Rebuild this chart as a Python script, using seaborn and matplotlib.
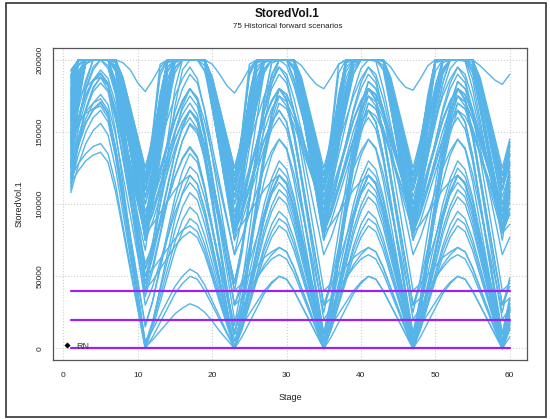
# StoredVol.1 – 75 historical forward scenarios

import pandas as pd
import matplotlib
matplotlib.use('Agg')
import matplotlib.pyplot as plt
import matplotlib.patches as mpatches
from matplotlib import ticker
import seaborn as sns

# ── Data ──────────────────────────────────────────────────────────────────────

# stored volume per scenario, in thousands, for stages 1..60
stored_k = [
    [150,179,200,200,200,200,194,165,137,108,80, 105,138,171,200,200,200,200,200,184,161,138,115, 148,192,200,200,200,200,200,200,186,164,142,120, 137,159,181,200,200,200,200,199,168,137,106,75, 88,105,122,139,152,160,152,130,100,70,40,10, 16],
    [172,200,200,200,200,200,200,184,161,138,115, 148,192,200,200,200,200,200,200,186,164,142,120, 137,159,181,200,200,200,200,199,168,137,106,75, 88,105,122,139,152,160,152,130,100,70,40,10, 16,24,32,40,46,50,48,40,30,20,10,0, 14],
    [128,181,200,200,200,200,200,186,164,142,120, 137,159,181,200,200,200,200,199,168,137,106,75, 88,105,122,139,152,160,152,130,100,70,40,10, 16,24,32,40,46,50,48,40,30,20,10,0, 14,32,50,68,81,90,86,72,54,36,18,0, 19],
    [185,200,200,200,200,200,199,168,137,106,75, 88,105,122,139,152,160,152,130,100,70,40,10, 16,24,32,40,46,50,48,40,30,20,10,0, 14,32,50,68,81,90,86,72,54,36,18,0, 19,44,69,94,113,125,119,102,79,56,33,10, 35],
    [140,160,176,186,191,184,161,131,101,71,41, 47,55,63,71,77,81,77,65,49,32,16,0, 14,32,50,68,81,90,86,72,54,36,18,0, 19,44,69,94,113,125,119,102,79,56,33,10, 36,70,104,138,163,180,176,162,144,126,108,90, 113],
    [118,128,135,140,142,135,114,85,57,28,0, 14,32,50,68,81,90,86,72,54,36,18,0, 19,44,69,94,113,125,119,102,79,56,33,10, 36,70,104,138,163,180,176,162,144,126,108,90, 113,144,175,200,200,200,200,200,186,164,142,120, 140],
    [163,185,200,200,200,200,185,152,120,87,55, 74,99,124,149,168,180,174,157,134,111,88,65, 91,125,159,193,200,200,200,200,182,158,134,110, 133,164,195,200,200,200,200,200,186,164,142,120, 140,166,192,200,200,200,200,200,170,140,110,80, 115],
    [192,200,200,200,200,200,200,172,143,114,85, 111,145,179,200,200,200,200,200,182,158,134,110, 133,164,195,200,200,200,200,200,186,164,142,120, 140,166,192,200,200,200,200,200,170,140,110,80, 115,161,200,200,200,200,200,200,184,161,138,115, 141],
    [135,176,200,200,200,200,200,182,158,134,110, 133,164,195,200,200,200,200,200,186,164,142,120, 140,166,192,200,200,200,200,200,170,140,110,80, 115,161,200,200,200,200,200,200,184,161,138,115, 141,176,200,200,200,200,200,200,180,155,130,105, 122],
    [155,192,200,200,200,200,200,186,164,142,120, 140,166,192,200,200,200,200,200,170,140,110,80, 115,161,200,200,200,200,200,200,184,161,138,115, 141,176,200,200,200,200,200,200,180,155,130,105, 122,145,168,191,200,200,200,193,166,139,112,85, 97],
    [110,141,165,180,188,182,164,140,116,92,68, 103,149,195,200,200,200,200,200,184,161,138,115, 141,176,200,200,200,200,200,200,180,155,130,105, 122,145,168,191,200,200,200,193,166,139,112,85, 97,113,129,145,157,165,157,134,103,72,41,10, 28],
    [178,200,200,200,200,200,200,184,161,138,115, 141,176,200,200,200,200,200,200,180,155,130,105, 122,145,168,191,200,200,200,193,166,139,112,85, 97,113,129,145,157,165,157,134,103,72,41,10, 28,52,76,100,118,130,124,105,80,55,30,5, 29],
    [146,188,200,200,200,200,200,180,155,130,105, 122,145,168,191,200,200,200,193,166,139,112,85, 97,113,129,145,157,165,157,134,103,72,41,10, 28,52,76,100,118,130,124,105,80,55,30,5, 29,61,93,125,149,165,161,150,135,120,105,90, 110],
    [168,196,200,200,200,200,200,172,143,114,85, 97,113,129,145,157,165,157,134,103,72,41,10, 28,52,76,100,118,130,124,105,80,55,30,5, 29,61,93,125,149,165,161,150,135,120,105,90, 110,137,164,191,200,200,200,198,171,144,117,90, 104],
    [122,141,156,165,170,162,139,108,77,46,15, 33,57,81,105,123,135,129,110,85,60,35,10, 34,66,98,130,154,170,166,155,140,125,110,95, 115,142,169,196,200,200,200,200,174,146,118,90, 104,122,140,158,171,180,173,150,120,90,60,30, 35],
    [188,200,200,200,200,200,199,168,137,106,75, 99,131,163,195,200,200,200,200,188,167,146,125, 145,172,199,200,200,200,200,200,174,146,118,90, 104,122,140,158,171,180,173,150,120,90,60,30, 35,42,49,56,62,65,62,52,39,26,13,0, 8],
    [133,171,200,200,200,200,200,187,167,146,125, 145,172,199,200,200,200,200,200,174,146,118,90, 104,122,140,158,171,180,173,150,120,90,60,30, 35,42,49,56,62,65,62,52,39,26,13,0, 8,18,28,38,45,50,48,40,30,20,10,0, 16],
    [158,190,200,200,200,200,200,174,146,118,90, 104,122,140,158,171,180,173,150,120,90,60,30, 35,42,49,56,62,65,62,52,39,26,13,0, 8,18,28,38,45,50,48,40,30,20,10,0, 16,37,58,79,95,105,100,84,63,42,21,0, 27],
    [175,197,200,200,200,200,193,157,122,86,50, 55,62,69,76,82,85,81,68,51,34,17,0, 8,18,28,38,45,50,48,40,30,20,10,0, 16,37,58,79,95,105,100,84,63,42,21,0, 27,63,99,135,162,180,176,163,146,129,112,95, 127],
    [115,123,130,134,136,129,109,82,54,27,0, 8,18,28,38,45,50,48,40,30,20,10,0, 16,37,58,79,95,105,100,84,63,42,21,0, 27,63,99,135,162,180,176,163,146,129,112,95, 127,169,200,200,200,200,200,200,186,164,142,120, 143],
    [143,155,164,170,173,165,139,105,71,37,3, 19,40,61,82,98,108,103,86,65,43,22,0, 27,63,99,135,162,180,176,163,146,129,112,95, 127,169,200,200,200,200,200,200,186,164,142,120, 143,173,200,200,200,200,200,200,178,152,126,100, 119],
    [181,200,200,200,200,200,200,170,140,110,80, 107,143,179,200,200,200,200,200,184,161,138,115, 147,189,200,200,200,200,200,200,186,164,142,120, 143,173,200,200,200,200,200,200,178,152,126,100, 119,144,169,194,200,200,200,196,167,138,109,80, 97],
    [126,169,200,200,200,200,200,184,161,138,115, 147,189,200,200,200,200,200,200,186,164,142,120, 143,173,200,200,200,200,200,200,178,152,126,100, 119,144,169,194,200,200,200,196,167,138,109,80, 97,120,143,166,184,195,190,173,151,129,107,85, 97],
    [165,200,200,200,200,200,200,186,164,142,120, 143,173,200,200,200,200,200,200,178,152,126,100, 119,144,169,194,200,200,200,196,167,138,109,80, 97,120,143,166,184,195,190,173,151,129,107,85, 97,113,129,145,157,165,157,133,101,69,37,5, 31],
    [152,188,200,200,200,200,200,178,152,126,100, 119,144,169,194,200,200,200,196,167,138,109,80, 97,120,143,166,184,195,190,173,151,129,107,85, 97,113,129,145,157,165,157,133,101,69,37,5, 31,65,99,133,158,175,171,159,143,127,111,95, 115],
    [188,200,200,200,200,200,200,198,193,184,178, 186,195,200,200,200,200,200,200,197,190,182,177, 185,194,200,200,200,200,200,200,196,189,183,180, 188,197,200,200,200,200,200,200,195,187,181,179, 187,196,200,200,200,200,200,200,196,191,186,183, 190],
    [138,166,186,200,200,200,184,160,137,113,90, 102,118,134,150,162,170,162,138,106,74,42,10, 36,70,104,138,163,180,176,164,148,132,116,100, 120,146,172,198,200,200,200,200,172,143,114,85, 121,169,200,200,200,200,200,200,182,158,134,110, 134],
    [170,189,200,200,200,200,182,147,111,76,40, 66,100,134,168,193,200,200,192,174,156,138,120, 140,166,192,200,200,200,200,200,172,143,114,85, 121,169,200,200,200,200,200,200,182,158,134,110, 134,166,198,200,200,200,200,200,182,158,134,110, 128],
    [112,153,183,200,200,200,195,176,158,139,120, 140,166,192,200,200,200,200,200,172,143,114,85, 121,169,200,200,200,200,200,200,182,158,134,110, 134,166,198,200,200,200,200,200,182,158,134,110, 128,152,176,200,200,200,200,200,170,140,110,80, 94],
    [160,191,200,200,200,200,200,172,143,114,85, 121,169,200,200,200,200,200,200,182,158,134,110, 134,166,198,200,200,200,200,200,182,158,134,110, 128,152,176,200,200,200,200,200,170,140,110,80, 94,113,132,151,166,175,168,146,117,88,59,30, 43],
    [148,200,200,200,200,200,200,182,158,134,110, 134,166,198,200,200,200,200,200,182,158,134,110, 128,152,176,200,200,200,200,200,170,140,110,80, 94,113,132,151,166,175,168,146,117,88,59,30, 43,60,77,94,107,115,109,92,69,46,23,0, 17],
    [183,200,200,200,200,200,200,182,158,134,110, 128,152,176,200,200,200,200,200,170,140,110,80, 94,113,132,151,166,175,168,146,117,88,59,30, 43,60,77,94,107,115,109,92,69,46,23,0, 17,39,61,83,99,110,105,88,66,44,22,0, 28],
    [130,159,180,195,200,196,178,153,129,104,80, 94,113,132,151,166,175,168,146,117,88,59,30, 43,60,77,94,107,115,109,92,69,46,23,0, 17,39,61,83,99,110,105,88,66,44,22,0, 28,65,102,139,167,185,180,166,147,128,109,90, 109],
    [176,199,200,200,200,200,195,160,125,90,55, 68,85,102,119,132,140,133,112,84,56,28,0, 17,39,61,83,99,110,105,88,66,44,22,0, 28,65,102,139,167,185,180,166,147,128,109,90, 109,134,159,184,200,200,200,187,159,131,103,75, 109],
    [120,140,156,166,171,163,140,109,78,47,16, 33,55,77,99,115,126,121,104,82,60,38,16, 44,81,118,155,183,200,196,182,163,143,124,105, 124,149,174,199,200,200,200,199,168,137,106,75, 109,154,199,200,200,200,200,200,188,167,146,125, 145],
    [166,192,200,200,200,200,200,174,146,118,90, 118,155,192,200,200,200,200,200,180,155,130,105, 124,149,174,199,200,200,200,199,168,137,106,75, 109,154,199,200,200,200,200,200,188,167,146,125, 145,172,199,200,200,200,200,200,172,143,114,85, 108],
    [141,185,200,200,200,200,200,180,155,130,105, 124,149,174,199,200,200,200,199,168,137,106,75, 109,154,199,200,200,200,200,200,188,167,146,125, 145,172,199,200,200,200,200,200,172,143,114,85, 108,139,170,200,200,200,200,200,184,161,138,115, 127],
    [190,200,200,200,200,200,199,168,137,106,75, 109,154,199,200,200,200,200,200,188,167,146,125, 145,172,199,200,200,200,200,200,172,143,114,85, 108,139,170,200,200,200,200,200,184,161,138,115, 127,143,159,175,187,195,187,164,133,102,71,40, 45],
    [125,179,200,200,200,200,200,188,167,146,125, 145,172,199,200,200,200,200,200,172,143,114,85, 108,139,170,200,200,200,200,200,184,161,138,115, 127,143,159,175,187,195,187,164,133,102,71,40, 45,51,57,63,67,70,67,56,42,28,14,0, 18],
    [157,189,200,200,200,200,200,172,143,114,85, 108,139,170,200,200,200,200,200,184,161,138,115, 127,143,159,175,187,195,187,164,133,102,71,40, 45,51,57,63,67,70,67,56,42,28,14,0, 18,42,66,90,108,120,114,96,72,48,24,0, 26],
    [173,200,200,200,200,200,200,184,161,138,115, 127,143,159,175,187,195,187,164,133,102,71,40, 45,51,57,63,67,70,67,56,42,28,14,0, 18,42,66,90,108,120,114,96,72,48,24,0, 26,61,96,131,158,175,171,159,143,127,111,95, 112],
    [108,127,142,151,156,148,125,94,63,32,1, 6,12,18,24,28,31,29,25,19,12,6,0, 18,42,66,90,108,120,114,96,72,48,24,0, 26,61,96,131,158,175,171,159,143,127,111,95, 112,134,156,178,194,200,199,180,155,130,105,80, 112],
    [150,157,163,166,168,160,134,101,67,34,0, 18,42,66,90,108,120,114,96,72,48,24,0, 26,61,96,131,158,175,171,159,143,127,111,95, 112,134,156,178,194,200,199,180,155,130,105,80, 112,155,198,200,200,200,200,200,184,161,138,115, 140],
    [186,200,200,200,200,200,200,170,140,110,80, 106,141,176,200,200,200,200,200,186,164,142,120, 137,159,181,200,200,200,200,200,170,140,110,80, 112,155,198,200,200,200,200,200,184,161,138,115, 140,173,200,200,200,200,200,200,182,158,134,110, 130],
    [136,178,200,200,200,200,200,186,164,142,120, 137,159,181,200,200,200,200,200,170,140,110,80, 112,155,198,200,200,200,200,200,184,161,138,115, 140,173,200,200,200,200,200,200,182,158,134,110, 130,156,182,200,200,200,200,200,174,146,118,90, 104],
    [162,188,200,200,200,200,198,169,139,110,80, 112,155,198,200,200,200,200,200,184,161,138,115, 140,173,200,200,200,200,200,200,182,158,134,110, 130,156,182,200,200,200,200,200,174,146,118,90, 104,122,140,158,171,180,173,150,120,90,60,30, 47],
    [118,170,200,200,200,200,200,184,161,138,115, 140,173,200,200,200,200,200,200,182,158,134,110, 130,156,182,200,200,200,200,200,174,146,118,90, 104,122,140,158,171,180,173,150,120,90,60,30, 47,70,93,116,134,145,139,121,97,73,49,25, 49],
    [179,200,200,200,200,200,200,182,158,134,110, 130,156,182,200,200,200,200,200,174,146,118,90, 104,122,140,158,171,180,173,150,120,90,60,30, 47,70,93,116,134,145,139,121,97,73,49,25, 49,81,113,145,169,185,180,166,147,128,109,90, 109],
    [145,176,200,200,200,200,196,170,143,117,90, 104,122,140,158,171,180,173,150,120,90,60,30, 47,70,93,116,134,145,139,121,97,73,49,25, 49,81,113,145,169,185,180,166,147,128,109,90, 109,134,159,184,200,200,200,191,167,143,119,95, 108],
    [193,200,200,200,200,200,194,158,122,86,50, 67,90,113,136,154,165,159,141,117,93,69,45, 69,101,133,165,189,200,200,185,165,145,125,105, 124,149,174,199,200,200,200,200,176,149,122,95, 108,125,142,159,172,180,172,148,116,84,52,20, 28],
    [131,159,179,193,200,194,176,152,128,104,80, 104,136,168,200,200,200,200,200,180,155,130,105, 124,149,174,199,200,200,200,200,176,149,122,95, 108,125,142,159,172,180,172,148,116,84,52,20, 28,38,48,58,65,70,67,56,42,28,14,0, 13],
    [169,200,200,200,200,200,200,180,155,130,105, 124,149,174,199,200,200,200,200,176,149,122,95, 108,125,142,159,172,180,172,148,116,84,52,20, 28,38,48,58,65,70,67,56,42,28,14,0, 13,30,47,64,77,85,81,68,51,34,17,0, 18],
    [154,184,200,200,200,200,200,175,149,122,95, 108,125,142,159,172,180,172,148,116,84,52,20, 28,38,48,58,65,70,67,56,42,28,14,0, 13,30,47,64,77,85,81,68,51,34,17,0, 18,42,66,90,108,120,114,96,72,48,24,0, 26],
    [114,134,150,160,165,157,133,101,69,37,5, 13,23,33,43,50,55,52,44,33,22,11,0, 13,30,47,64,77,85,81,68,51,34,17,0, 18,42,66,90,108,120,114,96,72,48,24,0, 26,60,94,128,153,170,166,153,136,119,102,85, 120],
    [184,196,200,200,200,200,177,140,104,67,30, 43,60,77,94,107,115,109,92,69,46,23,0, 18,42,66,90,108,120,114,96,72,48,24,0, 26,60,94,128,153,170,166,153,136,119,102,85, 120,167,200,200,200,200,200,200,186,164,142,120, 143],
    [139,159,175,185,190,183,161,132,103,74,45, 63,87,111,135,153,165,159,141,117,93,69,45, 71,105,139,173,198,200,200,195,175,155,135,115, 150,197,200,200,200,200,200,200,186,164,142,120, 143,174,200,200,200,200,200,200,178,152,126,100, 120],
    [161,190,200,200,200,200,200,170,140,110,80, 106,140,174,200,200,200,200,200,184,161,138,115, 150,197,200,200,200,200,200,200,186,164,142,120, 143,174,200,200,200,200,200,200,178,152,126,100, 120,146,172,198,200,200,200,200,172,143,114,85, 101],
    [127,168,198,200,200,200,200,183,161,138,115, 150,197,200,200,200,200,200,200,186,164,142,120, 143,174,200,200,200,200,200,200,178,152,126,100, 120,146,172,198,200,200,200,200,172,143,114,85, 101,122,143,164,180,190,184,165,140,115,90,65, 77],
    [177,200,200,200,200,200,200,186,164,142,120, 143,174,200,200,200,200,200,200,178,152,126,100, 120,146,172,198,200,200,200,200,172,143,114,85, 101,122,143,164,180,190,184,165,140,115,90,65, 77,93,109,125,137,145,138,116,87,58,29,0, 27],
    [149,186,200,200,200,200,200,178,152,126,100, 120,146,172,198,200,200,200,200,172,143,114,85, 101,122,143,164,180,190,184,165,140,115,90,65, 77,93,109,125,137,145,138,116,87,58,29,0, 27,63,99,135,162,180,176,164,148,132,116,100, 118],
    [189,200,200,200,200,200,200,172,143,114,85, 101,122,143,164,180,190,184,165,140,115,90,65, 77,93,109,125,137,145,138,116,87,58,29,0, 27,63,99,135,162,180,176,164,148,132,116,100, 118,142,166,190,200,200,200,194,168,142,116,90, 123],
    [121,146,165,178,184,178,159,134,109,84,59, 71,87,103,119,131,139,132,111,83,56,28,0, 27,63,99,135,162,180,176,164,148,132,116,100, 118,142,166,190,200,200,200,194,168,142,116,90, 123,167,200,200,200,200,200,200,182,158,134,110, 135],
    [167,186,200,200,200,200,181,147,113,79,45, 72,108,144,180,200,200,200,200,183,162,141,120, 138,162,186,200,200,200,200,200,174,146,118,90, 123,167,200,200,200,200,200,200,182,158,134,110, 135,168,200,200,200,200,200,200,182,158,134,110, 129],
    [144,187,200,200,200,200,200,186,164,142,120, 138,162,186,200,200,200,200,200,174,146,118,90, 123,167,200,200,200,200,200,200,182,158,134,110, 135,168,200,200,200,200,200,200,182,158,134,110, 129,154,179,200,200,200,200,200,170,140,110,80, 93],
    [116,145,166,181,188,183,166,144,122,100,78, 111,155,199,200,200,200,200,200,182,158,134,110, 135,168,200,200,200,200,200,200,182,158,134,110, 129,154,179,200,200,200,200,200,170,140,110,80, 93,110,127,144,157,165,157,133,101,69,37,5, 22],
    [180,200,200,200,200,200,200,182,158,134,110, 135,168,200,200,200,200,200,200,182,158,134,110, 129,154,179,200,200,200,200,200,170,140,110,80, 93,110,127,144,157,165,157,133,101,69,37,5, 22,45,68,91,109,120,114,97,74,51,28,5, 31],
    [134,174,200,200,200,200,200,182,158,134,110, 129,154,179,200,200,200,200,200,170,140,110,80, 93,110,127,144,157,165,157,133,101,69,37,5, 22,45,68,91,109,120,114,97,74,51,28,5, 31,66,101,136,163,180,176,163,146,129,112,95, 115],
    [158,188,200,200,200,200,200,170,140,110,80, 93,110,127,144,157,165,157,133,101,69,37,5, 22,45,68,91,109,120,114,97,74,51,28,5, 31,66,101,136,163,180,176,163,146,129,112,95, 115,141,167,193,200,200,200,196,167,138,109,80, 86],
    [171,191,200,200,200,200,186,149,113,76,40, 57,80,103,126,144,155,149,132,109,86,63,40, 66,101,136,171,198,200,200,195,175,155,135,115, 135,161,187,200,200,200,200,200,170,140,110,80, 86,94,102,110,116,120,114,96,72,48,24,0, 14],
    [124,152,172,186,193,187,170,147,124,101,78, 104,139,174,200,200,200,200,200,184,161,138,115, 135,161,187,200,200,200,200,200,170,140,110,80, 86,94,102,110,116,120,114,96,72,48,24,0, 14,33,52,71,86,95,90,76,57,38,19,0, 18],
    [187,200,200,200,200,200,200,184,161,138,115, 135,161,187,200,200,200,200,200,170,140,110,80, 86,94,102,110,116,120,114,96,72,48,24,0, 14,33,52,71,86,95,90,76,57,38,19,0, 18,42,66,90,108,120,115,98,76,54,32,10, 34],
    [142,173,197,200,200,200,192,164,136,108,80, 86,94,102,110,116,120,114,96,72,48,24,0, 14,33,52,71,86,95,90,76,57,38,19,0, 18,42,66,90,108,120,115,98,76,54,32,10, 34,66,98,130,154,170,166,152,134,116,98,80, 115],
    [164,174,181,186,188,179,151,114,77,40,3, 17,36,55,74,89,98,93,78,59,39,20,0, 18,42,66,90,108,120,115,98,76,54,32,10, 34,66,98,130,154,170,166,152,134,116,98,80, 115,161,200,200,200,200,200,200,186,164,142,120, 137],
    [119,142,159,170,176,169,148,120,92,64,36, 54,78,102,126,144,156,151,134,112,90,68,46, 70,102,134,166,190,200,200,187,168,148,129,110, 145,191,200,200,200,200,200,200,186,164,142,120, 137,159,181,200,200,200,200,200,170,140,110,80, 106],
    [175,200,200,200,200,200,200,174,146,118,90, 114,146,178,200,200,200,200,200,182,158,134,110, 145,191,200,200,200,200,200,200,186,164,142,120, 137,159,181,200,200,200,200,200,170,140,110,80, 106,140,174,200,200,200,200,200,184,161,138,115, 134],
]

ref_levels = [0, 20000, 40000]       # purple reference volumes
ref_stages = [1, 60]
rn_stage = [0.5]
rn_value = [2300]
x_ticks = [0, 10, 20, 30, 40, 50, 60]
y_ticks = [0, 50000, 100000, 150000, 200000]

# ── Long format ───────────────────────────────────────────────────────────────

records = []
for _i, _row in enumerate(stored_k):
    for _s, _v in enumerate(_row, start=1):
        records.append({'scenario': _i, 'stage': _s, 'vol': _v * 1000})
df = pd.DataFrame(records)

ref_df = pd.DataFrame([{'level': _l, 'stage': _s, 'vol': _l}
                       for _l in ref_levels for _s in ref_stages])

# ── Plot ──────────────────────────────────────────────────────────────────────

sns.set_theme(style='white')
plt.rcParams['font.family'] = ['Liberation Sans', 'DejaVu Sans']

fig = plt.figure(figsize=(5.5, 4.19), dpi=100)
ax = fig.add_axes([0.0969, 0.1408, 0.8618, 0.7439])

sns.lineplot(data=df, x='stage', y='vol', units='scenario', estimator=None,
             color='#56B4E9', linewidth=1.0, ax=ax, legend=False)
sns.lineplot(data=ref_df, x='stage', y='vol', units='level', estimator=None,
             color='#A020F0', linewidth=1.6, ax=ax, legend=False)
sns.scatterplot(x=rn_stage, y=rn_value, color='black', marker='D', s=8,
                edgecolor='black', ax=ax, zorder=5)
ax.text(rn_stage[0] + 1.2, rn_value[0] - 1200, 'RN', fontsize=6.5,
        color='#3a3a3a', va='center', ha='left')

ax.set_xlim(-1.36, 62.36)
ax.set_ylim(-8000, 208000)
ax.xaxis.set_major_locator(ticker.FixedLocator(x_ticks))
ax.yaxis.set_major_locator(ticker.FixedLocator(y_ticks))
ax.set_xticklabels([str(t) for t in x_ticks])
ax.set_yticklabels([str(t) for t in y_ticks])
ax.tick_params(axis='both', direction='out', length=4, width=0.7,
               colors='#444444', labelsize=6, labelcolor='#222222')
ax.tick_params(axis='y', labelrotation=90, pad=3)
ax.tick_params(axis='x', pad=4.5)
for _lab in ax.get_yticklabels():
    _lab.set_va('center')

ax.grid(True, linestyle=':', color='#cfcfcf', linewidth=0.8)
ax.set_axisbelow(True)
for _sp in ax.spines.values():
    _sp.set_color('#555555')
    _sp.set_linewidth(0.9)

ax.set_xlabel('Stage', fontsize=6.5, color='#222222')
ax.set_ylabel('StoredVol.1', fontsize=6.5, color='#222222')
ax.xaxis.set_label_coords(0.5, -0.105)
ax.yaxis.set_label_coords(-0.062, 0.5)

fig.text(0.5227, 1 - 14 / 419, 'StoredVol.1', ha='center', va='center',
         fontsize=8.5, fontweight='bold', color='#111111')
fig.text(0.5227, 1 - 27 / 419, '75 Historical forward scenarios', ha='center',
         va='center', fontsize=5.8, color='#222222')

fig.patches.append(mpatches.Rectangle((5.5 / 550, 2 / 419), 540 / 550, 414 / 419,
                                      transform=fig.transFigure, fill=False,
                                      edgecolor='#333333', linewidth=1.2))

fig.savefig('out.png', dpi=100)
